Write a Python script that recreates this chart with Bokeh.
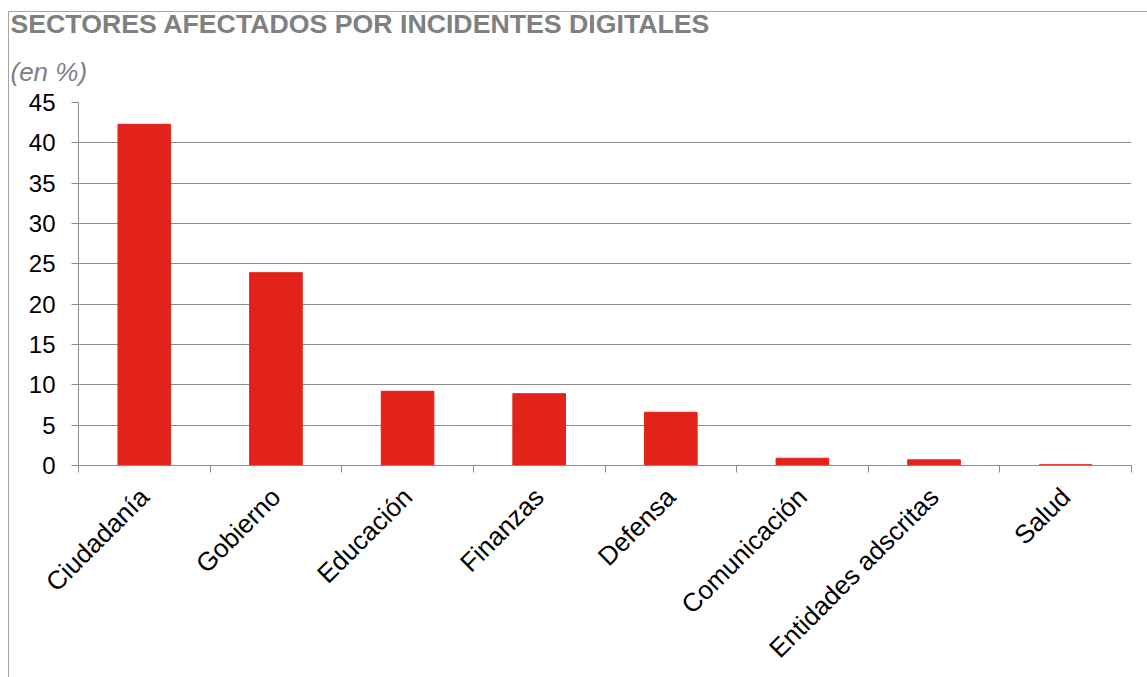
from bokeh.plotting import figure
from bokeh.models import Range1d, FixedTicker, Title
from bokeh.embed import file_html
from bokeh.resources import INLINE
from math import pi

categories = ["Ciudadanía", "Gobierno", "Educación", "Finanzas", "Defensa",
              "Comunicación", "Entidades adscritas", "Salud"]
values = [42.3, 23.9, 9.2, 8.9, 6.6, 0.9, 0.7, 0.1]
y_ticks = [0, 5, 10, 15, 20, 25, 30, 35, 40, 45]
title_text = "SECTORES AFECTADOS POR INCIDENTES DIGITALES"
subtitle_text = "(en %)"

n = len(categories)
centers = [i + 0.5 for i in range(n)]
bounds = [float(i) for i in range(n + 1)]

FONT = "Liberation Sans"
GRAY = "#8c8c8c"
BOX = "#a6a6a6"

p = figure(width=1147, height=677, output_backend="svg", toolbar_location=None,
           x_range=Range1d(0, n), y_range=Range1d(0, 45),
           min_border_left=78, min_border_right=16, min_border_top=102,
           min_border_bottom=212)
# thin chart box (top and left edges) drawn behind the transparent canvas
p.styles = {
    "background": (f"linear-gradient({BOX}, {BOX}) 8px 11px / 100% 1px no-repeat, "
                   f"linear-gradient({BOX}, {BOX}) 8px 11px / 1px 100% no-repeat")
}
p.border_fill_color = None
p.outline_line_color = None
p.background_fill_color = "white"

sub = Title(text=subtitle_text, text_font=FONT, text_font_size="26px",
            text_font_style="italic", text_color="#808080", align="left",
            offset=-68, standoff=32)
p.add_layout(sub, "above")
main = Title(text=title_text, text_font=FONT, text_font_size="26.7px",
             text_font_style="bold", text_color="#808080", align="left",
             offset=-68, standoff=0)
p.add_layout(main, "above")

p.vbar(x=centers, top=values, width=0.4, color="#e2231a")

# x axis
xa = p.below[0]
xa.ticker = FixedTicker(ticks=centers, minor_ticks=bounds)
xa.major_label_overrides = {c: cat for c, cat in zip(centers, categories)}
xa.major_label_orientation = pi / 4
xa.major_tick_out = 0
xa.major_tick_in = 0
xa.minor_tick_out = 7
xa.minor_tick_in = 0
xa.minor_tick_line_color = GRAY
xa.axis_line_color = GRAY
xa.major_label_text_font = FONT
xa.major_label_text_font_size = "26px"
xa.major_label_text_color = "black"
xa.major_label_standoff = 20

# y axis
ya = p.left[0]
ya.ticker = FixedTicker(ticks=y_ticks)
ya.major_tick_out = 7
ya.major_tick_in = 0
ya.minor_tick_line_color = None
ya.major_tick_line_color = GRAY
ya.axis_line_color = GRAY
ya.major_label_text_font = FONT
ya.major_label_text_font_size = "24px"
ya.major_label_text_color = "black"
ya.major_label_standoff = 16

p.xgrid.grid_line_color = None
p.ygrid.grid_line_color = GRAY
p.ygrid.grid_line_width = 1

open("out.html", "w").write(file_html(p, INLINE))
